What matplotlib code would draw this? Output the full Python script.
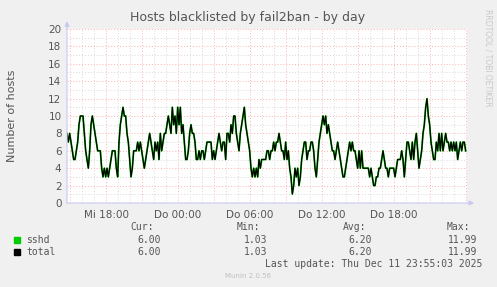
import matplotlib
matplotlib.use("Agg")
import matplotlib.pyplot as plt
import numpy as np

# --- data (one sample every 20 min / 3) ---
t_start = 14.75          # hours since Mi 00:00
t_step = 1.0 / 9.0       # hours between samples
t_span = 100.0 / 3.0     # visible window, hours

sshd = [
    8, 7, 8, 7, 6, 5, 5, 6, 7, 9, 10, 10, 10, 8, 6, 5, 4, 6, 9, 10,
    9, 8, 7, 6, 6, 6, 4, 3, 4, 3, 4, 3, 4, 5, 6, 6, 6, 4, 3, 7,
    9, 10, 11, 10, 10, 8, 7, 5, 3, 4, 6, 6, 6, 7, 6, 7, 6, 5, 4,
    5, 6, 7, 8, 7, 6, 5, 7, 6, 7, 5, 8, 6, 7, 8, 8, 9, 10, 9, 8,
    11, 9, 10, 8, 11, 9, 11, 8, 9, 7, 5, 5, 6, 8, 9, 8, 8, 7, 5, 5,
    6, 5, 6, 6, 5, 6, 7, 7, 7, 7, 5, 6, 5, 6, 7, 8, 7, 6, 7, 7,
    5, 8, 8, 7, 9, 8, 10,
    10, 8, 7, 6, 8, 9, 10, 11, 9, 8, 7, 6, 4, 3, 4, 3, 4, 3, 5, 4,
    5, 5, 5, 5, 6, 6, 5, 6, 6, 7, 6, 7, 7, 8, 7, 6, 6, 5, 7, 5,
    6, 4, 3, 1.03, 2, 4, 3, 4, 2, 3, 5, 6, 7, 7, 5, 6, 6, 7, 7, 6,
    4, 3, 5, 7,
    8, 9, 10, 9, 10, 8, 9, 8, 7, 6, 6, 5, 6, 7, 6, 5, 4, 3, 3, 4,
    5, 6, 7, 6, 7, 6, 6, 5, 4, 6, 4, 6, 4, 4, 4, 4, 4, 3, 4, 3,
    2, 2, 3, 3, 4, 4, 5, 6, 5, 4, 4, 3, 4, 4, 4, 4, 3,
    4, 5, 5, 5, 6, 5, 3, 5, 7, 7, 6, 5, 7, 5, 7, 8, 6, 4, 5, 6,
    8, 9, 11, 11.99, 10, 9, 7, 6, 5, 5, 7, 6, 8, 6, 8, 6, 7, 8, 7, 7,
    6, 7, 6, 7, 6, 7, 5, 6, 7, 6, 7, 7, 6,
]
total = list(sshd)  # only one jail, so total == sshd

tick_hours = [18, 24, 30, 36, 42]
tick_labels = ["Mi 18:00", "Do 00:00", "Do 06:00", "Do 12:00", "Do 18:00"]

legend_names = ["sshd", "total"]
legend_colors = ["#00cc00", "#000000"]
cur = ["6.00", "6.00"]
vmin = ["1.03", "1.03"]
avg = ["6.20", "6.20"]
vmax = ["11.99", "11.99"]

W, H = 497, 287
fig = plt.figure(figsize=(W / 100, H / 100), dpi=100)
fig.patch.set_facecolor("#f0f0f0")

# plot area in pixels: left 67, right 467, top 29, bottom 203
ax = fig.add_axes([67 / W, (H - 203) / H, 400 / W, 174 / H])
ax.set_facecolor("white")

x = t_start + np.arange(len(sshd)) * t_step
ax.plot(x, sshd, color=legend_colors[0], lw=1.3)
ax.plot(x, total, color=legend_colors[1], lw=0.9)

ax.set_xlim(t_start, t_start + t_span)
ax.set_ylim(0, 20)

# grids: minor grey, major pink, both dotted
for h in np.arange(15, 48.1, 1):
    major = (h % 3 == 0)
    ax.axvline(h, color="#ffb0b0" if major else "#d8d8d8", lw=0.7,
               ls=(0, (1, 2)), zorder=0)
for v in range(1, 21):
    major = (v % 2 == 0)
    ax.axhline(v, color="#ffb0b0" if major else "#d8d8d8", lw=0.7,
               ls=(0, (1, 2)), zorder=0)

ax.set_xticks(tick_hours)
ax.set_xticklabels(tick_labels)
ax.set_yticks(range(0, 21, 2))
ax.tick_params(axis="both", length=0, labelsize=7.5, colors="#555555", pad=4)
ax.tick_params(axis="x", pad=5)
for s in ax.spines.values():
    s.set_visible(False)

# axis lines with arrow heads, munin style
ax.annotate("", xy=(t_start, 20.9), xytext=(t_start, 0), xycoords="data",
            annotation_clip=False,
            arrowprops=dict(arrowstyle="-|>", color="#c8c8f0", lw=0.8,
                            mutation_scale=7, shrinkA=0, shrinkB=0))
ax.annotate("", xy=(t_start + t_span + 0.6, 0), xytext=(t_start, 0),
            annotation_clip=False,
            arrowprops=dict(arrowstyle="-|>", color="#c8c8f0", lw=0.8,
                            mutation_scale=7, shrinkA=0, shrinkB=0))

fig.text(248 / W, 1 - 18 / H, "Hosts blacklisted by fail2ban - by day",
         ha="center", va="center", fontsize=9, color="#555555")
fig.text(12 / W, 1 - 116 / H, "Number of hosts", rotation=90,
         ha="center", va="center", fontsize=8, color="#555555")
fig.text(488 / W, 1 - 58 / H, "RRDTOOL / TOBI OETIKER", rotation=270,
         ha="center", va="center", fontsize=5.5, color="#c8c8c8")

mono = dict(family="DejaVu Sans Mono", fontsize=7, color="#555555")
header_y = 1 - 227 / H
for label, xr in zip(["Cur:", "Min:", "Avg:", "Max:"], [154, 260, 366, 470]):
    fig.text(xr / W, header_y, label, ha="right", va="center", **mono)

for i, name in enumerate(legend_names):
    yy = 1 - (240 + i * 12) / H
    fig.patches.append(plt.Rectangle((14 / W, yy - 3 / H), 6 / W, 6 / H,
                                     transform=fig.transFigure,
                                     color=legend_colors[i]))
    fig.text(26 / W, yy, name, ha="left", va="center", **mono)
    for val, xr in zip([cur[i], vmin[i], avg[i], vmax[i]], [161, 267, 372, 477]):
        fig.text(xr / W, yy, val, ha="right", va="center", **mono)

fig.text(482 / W, 1 - 264 / H, "Last update: Thu Dec 11 23:55:03 2025",
         ha="right", va="center", **mono)
fig.text(248 / W, 1 - 276 / H, "Munin 2.0.56", ha="center", va="center",
         fontsize=5, color="#c0c0c0")

fig.savefig("out.png", dpi=100, facecolor=fig.get_facecolor())
